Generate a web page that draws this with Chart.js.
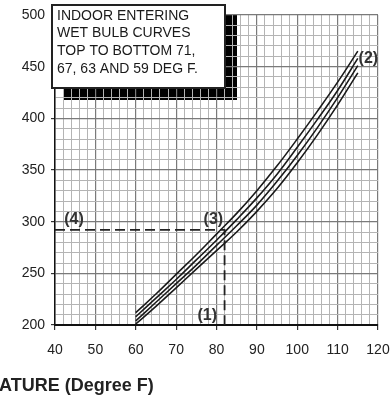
<!DOCTYPE html>
<html>
<head>
<meta charset="utf-8">
<script src="https://cdn.jsdelivr.net/npm/chart.js@4/dist/chart.umd.min.js"></script>
<style>
  html, body { margin: 0; padding: 0; background: #fff; }
  canvas { display: block; }
</style>
</head>
<body>
<canvas id="chart" width="392" height="400"></canvas>
<script>
/* ===== data ===== */
const outdoorTemps = [60, 65, 70, 75, 80, 85, 90, 95, 100, 105, 110, 115];
const wb71 = [212, 230, 249, 268, 288, 308, 330, 354, 380, 407, 435, 465];
const wb67 = [208, 226, 244, 263, 282, 302, 323, 346, 372, 399, 427, 458];
const wb63 = [204, 222, 240, 258, 277, 296, 316, 339, 364, 391, 420, 451];
const wb59 = [201, 218, 236, 254, 272, 290, 310, 332, 357, 384, 413, 444];

// example reading (dashed guide)
const guideX = [40, 82, 82];
const guideY = [292, 292, 200];

const xTicks = [40, 50, 60, 70, 80, 90, 100, 110, 120];
const yTicks = [200, 250, 300, 350, 400, 450, 500];

const noteLines = [
  "INDOOR ENTERING",
  "WET BULB CURVES",
  "TOP TO BOTTOM 71,",
  "67, 63 AND 59 DEG F."
];

// callout labels: text, x value, y value
const callouts = [
  ["(4)", 42.3, 302],
  ["(3)", 76.8, 302],
  ["(1)", 75.3, 209],
  ["(2)", 115.2, 458]
];

const FONT = "'Liberation Sans', Arial, sans-serif";

function toPoints(xs, ys) {
  return xs.map((x, i) => ({ x: x, y: ys[i] }));
}

function curve(ys) {
  return {
    data: toPoints(outdoorTemps, ys),
    borderColor: "#1a1a1a",
    borderWidth: 1.6,
    pointRadius: 0,
    tension: 0.4,
    fill: false
  };
}

/* ===== shadow behind the note box (grid shows through) ===== */
const shadowPlugin = {
  id: "shadow",
  beforeDraw(chart) {
    const c = chart.ctx;
    c.save();
    c.fillStyle = "#000";
    c.fillRect(63, 15, 174, 85);
    c.restore();
  }
};

/* ===== note box, callouts and axis title ===== */
const overlayPlugin = {
  id: "overlay",
  afterDraw(chart) {
    const c = chart.ctx;
    const xs = chart.scales.x;
    const ys = chart.scales.y;
    c.save();

    // note box
    c.fillStyle = "#fff";
    c.fillRect(52, 5, 173, 83);
    c.strokeStyle = "#222";
    c.lineWidth = 2;
    c.strokeRect(52, 5, 173, 83);

    c.fillStyle = "#1a1a1a";
    c.font = "14px " + FONT;
    c.textBaseline = "middle";
    c.textAlign = "left";
    noteLines.forEach((t, i) => c.fillText(t, 57, 16 + i * 17.6));

    // callouts
    c.font = "bold 16px " + FONT;
    c.fillStyle = "#333";
    callouts.forEach(([t, x, y]) => {
      c.fillText(t, xs.getPixelForValue(x), ys.getPixelForValue(y));
    });

    // x axis title (cut at the left edge)
    c.font = "bold 18px " + FONT;
    c.fillStyle = "#222";
    c.fillText("ATURE (Degree F)", -1, 386);

    c.restore();
  }
};

new Chart(document.getElementById("chart"), {
  type: "line",
  data: {
    datasets: [
      curve(wb71),
      curve(wb67),
      curve(wb63),
      curve(wb59),
      {
        data: toPoints(guideX, guideY),
        borderColor: "#222",
        borderWidth: 1.8,
        borderDash: [10, 5],
        pointRadius: 0,
        tension: 0,
        fill: false
      }
    ]
  },
  options: {
    responsive: false,
    animation: false,
    layout: { padding: { top: 15, right: 14, left: 0, bottom: 0 } },
    plugins: {
      legend: { display: false },
      tooltip: { enabled: false }
    },
    scales: {
      x: {
        type: "linear",
        min: 40,
        max: 120,
        afterFit(scale) {
          scale.height = 75;
          scale.paddingLeft = 0;
          scale.paddingRight = 0;
        },
        ticks: {
          stepSize: 2,
          autoSkip: false,
          maxRotation: 0,
          padding: 12,
          color: "#222",
          font: { family: FONT, size: 14 },
          callback: v => (xTicks.includes(v) ? String(v) : "")
        },
        grid: {
          color: ctx => (ctx.tick && ctx.tick.value % 10 === 0 ? "#7a7a7a" : "#b4b4b4"),
          lineWidth: ctx => (ctx.tick && ctx.tick.value % 10 === 0 ? 1.2 : 1),
          tickColor: ctx => (ctx.tick && ctx.tick.value % 10 === 0 ? "#333" : "rgba(0,0,0,0)"),
          tickLength: 5
        },
        border: { display: true, color: "#111", width: 2 }
      },
      y: {
        min: 200,
        max: 500,
        afterFit(scale) {
          scale.width = 55;
          scale.paddingTop = 0;
          scale.paddingBottom = 0;
        },
        ticks: {
          stepSize: 10,
          autoSkip: false,
          padding: 6,
          color: "#222",
          font: { family: FONT, size: 14 },
          callback: v => (yTicks.includes(v) ? String(v) : "")
        },
        grid: {
          color: ctx => (ctx.tick && ctx.tick.value % 50 === 0 ? "#7a7a7a" : "#b4b4b4"),
          lineWidth: ctx => (ctx.tick && ctx.tick.value % 50 === 0 ? 1.2 : 1),
          tickColor: ctx => (ctx.tick && ctx.tick.value % 50 === 0 ? "#333" : "rgba(0,0,0,0)"),
          tickLength: 4
        },
        border: { display: true, color: "#111", width: 1.5 }
      }
    }
  },
  plugins: [shadowPlugin, overlayPlugin]
});
</script>
</body>
</html>
